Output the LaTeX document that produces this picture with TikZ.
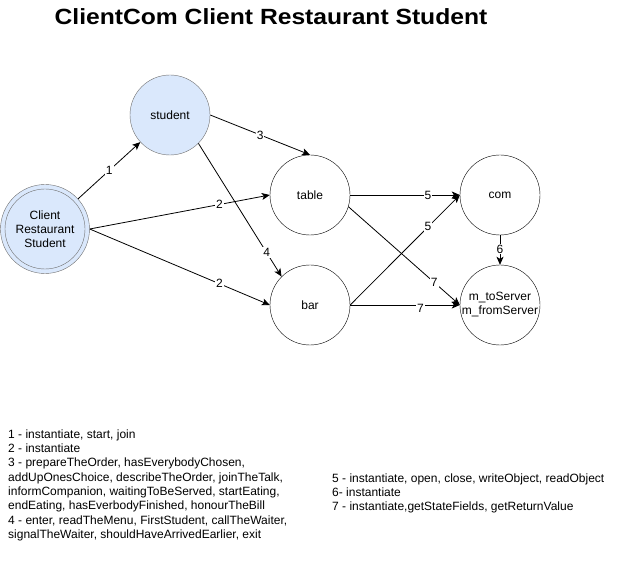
\documentclass[tikz,border=0pt]{standalone}
\usepackage{fontspec}
\setmainfont{Liberation Sans}
\usetikzlibrary{arrows.meta}
\definecolor{bluefill}{HTML}{DAE8FC}
\definecolor{bluestroke}{HTML}{707070}
\tikzset{
  state/.style={circle, draw=black, fill=white, minimum size=80pt, inner sep=0pt, font=\fontsize{12pt}{14pt}\selectfont, align=center},
  bluestate/.style={state, draw=bluestroke, fill=bluefill},
  conn/.style={draw=black, line width=0.8pt, -{Stealth[length=8pt,width=7pt,inset=2pt]}},
  lbl/.style={fill=white, inner sep=1pt, font=\fontsize{12pt}{14pt}\selectfont},
  legend/.style={anchor=north west, align=left, inner sep=0pt, font=\fontsize{12pt}{14.3pt}\selectfont}
}
\begin{document}
\begin{tikzpicture}[x=1pt,y=-1pt]
\useasboundingbox (0,0) rectangle (621,569);
\node[font=\fontsize{22pt}{26pt}\selectfont\bfseries] (title) at (271,17) {\scalebox{1.12}[1]{ClientCom Client Restaurant Student}};

\node[bluestate, minimum size=89pt] (client) at (45,229) {};
\draw[bluestroke, fill=bluefill] (client.center) circle (40);
\node[font=\fontsize{12pt}{14pt}\selectfont, align=center] (clienttext) at (client.center) {Client\\Restaurant\\Student};

\node[bluestate] (student) at (170,115) {student};
\node[state] (table) at (310,195) {table};
\node[state] (bar) at (310,305) {bar};
\node[state] (com) at (500,195) {com};
\node[state] (mto) at (500,305) {m\_toServer\\m\_fromServer};

\draw[conn] (client) -- node[lbl, pos=0.5] {1} (student);
\draw[conn] (client.east) -- node[lbl, pos=0.72] {2} (table.west);
\draw[conn] (client.east) -- node[lbl, pos=0.72] {2} (bar.west);
\draw[conn] (student.east) -- node[lbl, pos=0.5] {3} (table.north);
\draw[conn] (student.south east) -- node[lbl, pos=0.82] {4} (bar.north west);
\draw[conn] (table.east) -- node[lbl, pos=0.71] {5} (com.west);
\draw[conn] (bar.east) -- node[lbl, pos=0.71] {5} (com.west);
\draw[conn] (table.-17) -- node[lbl, pos=0.77] {7} (mto.west);
\draw[conn] (bar.east) -- node[lbl, pos=0.64, yshift=-3pt] {7} (mto.west);
\draw[conn] (com.south) -- node[lbl, pos=0.47] {6} (mto.north);

\node[legend] (leg1) at (8,429.5) {1 - instantiate, start, join\\
2 - instantiate\\
3 - prepareTheOrder, hasEverybodyChosen,\\
addUpOnesChoice, describeTheOrder, joinTheTalk,\\
informCompanion, waitingToBeServed, startEating,\\
endEating, hasEverbodyFinished, honourTheBill\\
4 - enter, readTheMenu, FirstStudent, callTheWaiter,\\
signalTheWaiter, shouldHaveArrivedEarlier, exit};
\node[legend] (leg2) at (332,473.5) {5 - instantiate, open, close, writeObject, readObject\\
6- instantiate\\
7 - instantiate,getStateFields, getReturnValue};
\end{tikzpicture}
\end{document}
